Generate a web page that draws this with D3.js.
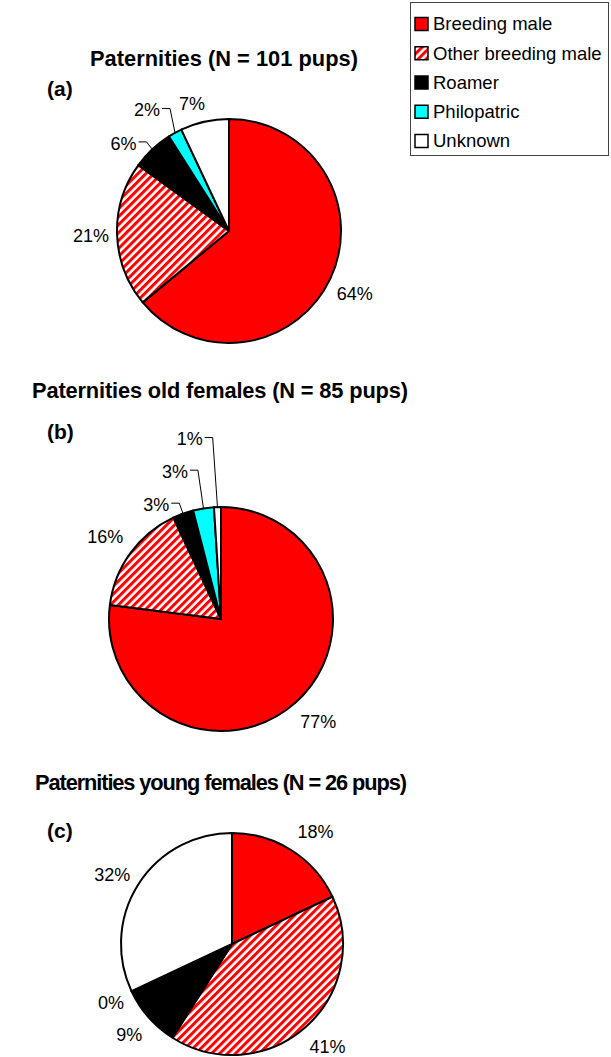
<!DOCTYPE html>
<html>
<head>
<meta charset="utf-8">
<script src="https://cdn.jsdelivr.net/npm/d3@7"></script>
<style>
    body { margin: 0; background: #fff; }
    text { font-family: "Liberation Sans", Arial, sans-serif; fill: #000; }
</style>
</head>
<body>
<div id="chart"></div>
<script>
// Data
const categories = ["Breeding male", "Other breeding male", "Roamer", "Philopatric", "Unknown"];
const valuesA = [64, 21, 6, 2, 7];
const valuesB = [77, 16, 3, 3, 1];
const valuesC = [18, 41, 9, 0, 32];
const titles = [
    "Paternities (N = 101 pups)",
    "Paternities old females (N = 85 pups)",
    "Paternities young females (N = 26 pups)"
];
const panelLetters = ["(a)", "(b)", "(c)"];

const colors = ["#ff0000", "url(#stripes)", "#000000", "#00ffff", "#ffffff"];

// Layout of the three panels
const panels = [
    { values: valuesA, cx: 229, cy: 231, r: 112, titleX: 224, titleY: 66, titleW: 268, letterY: 96,
      nudge: [[1, 4], [0, 0], [-11, 13], [-15.5, 0], [-7, 7]],
      leader: [false, false, true, true, false] },
    { values: valuesB, cx: 221, cy: 619, r: 112, titleX: 220, titleY: 398, titleW: 376, letterY: 439,
      nudge: [[6, -1], [-4, -1], [-18, 15.5], [-24.5, -11], [-27, -42]],
      leader: [false, false, true, true, true] },
    { values: valuesC, cx: 232, cy: 944, r: 111, titleX: 221, titleY: 790, titleW: 372, letterY: 838,
      nudge: [[10, 3], [5, 0], [0, 0], [3, 0], [-4, 4]],
      leader: [false, false, false, false, false] }
];

const width = 611;
const height = 1057;

const svg = d3.select("#chart")
    .append("svg")
    .attr("width", width)
    .attr("height", height);

svg.append("rect").attr("width", width).attr("height", height).attr("fill", "#fff");

// Diagonal red/white hatching
const pattern = svg.append("defs")
    .append("pattern")
    .attr("id", "stripes")
    .attr("patternUnits", "userSpaceOnUse")
    .attr("width", 5.6)
    .attr("height", 10)
    .attr("patternTransform", "rotate(45)");
pattern.append("rect").attr("width", 5.6).attr("height", 10).attr("fill", "#fff");
pattern.append("rect").attr("width", 3).attr("height", 10).attr("fill", "#ff0000");

const pie = d3.pie().sort(null).value(d => d);

panels.forEach((p, k) => {
    // Title and panel letter
    svg.append("text")
        .attr("x", p.titleX)
        .attr("y", p.titleY)
        .attr("text-anchor", "middle")
        .attr("textLength", p.titleW)
        .attr("lengthAdjust", "spacing")
        .style("font-size", "21.8px")
        .style("font-weight", "bold")
        .text(titles[k]);

    svg.append("text")
        .attr("x", 47)
        .attr("y", p.letterY)
        .style("font-size", "21px")
        .style("font-weight", "bold")
        .text(panelLetters[k]);

    const g = svg.append("g").attr("transform", `translate(${p.cx}, ${p.cy})`);
    const arcs = pie(p.values);
    const arc = d3.arc().innerRadius(0).outerRadius(p.r);
    const edgeArc = d3.arc().innerRadius(p.r).outerRadius(p.r);
    const labelArc = d3.arc().innerRadius(p.r + 26).outerRadius(p.r + 26);

    g.selectAll("path.slice")
        .data(arcs)
        .join("path")
        .attr("class", "slice")
        .attr("d", arc)
        .attr("fill", (d, i) => colors[i])
        .attr("stroke", "#000")
        .attr("stroke-width", 2)
        .attr("stroke-linejoin", "round");

    // Percentage labels
    arcs.forEach((d, i) => {
        const c = labelArc.centroid(d);
        const x = c[0] + p.nudge[i][0];
        const y = c[1] + p.nudge[i][1];
        const label = g.append("text")
            .attr("x", x)
            .attr("y", y)
            .attr("dy", "0.35em")
            .attr("text-anchor", "middle")
            .style("font-size", "18px")
            .text(d.data + "%");

        if (p.leader[i]) {
            const box = label.node().getBBox();
            const sx = box.x + box.width + 2;
            const sy = y - 1.5;
            const e = edgeArc.centroid(d);
            const corner = Math.min(sx + 8, e[0]);
            g.append("path")
                .attr("d", d3.line()([[sx, sy], [corner, sy], e]))
                .attr("fill", "none")
                .attr("stroke", "#000")
                .attr("stroke-width", 1);
        }
    });
});

// Legend
const legend = svg.append("g");
legend.append("rect")
    .attr("x", 410.5)
    .attr("y", 2.5)
    .attr("width", 198)
    .attr("height", 153)
    .attr("fill", "#fff")
    .attr("stroke", "#444")
    .attr("stroke-width", 1);

const rowY = d3.scalePoint().domain(categories).range([24, 141]);

categories.forEach((c, i) => {
    legend.append("rect")
        .attr("x", 415)
        .attr("y", rowY(c) - 6.5)
        .attr("width", 13)
        .attr("height", 13)
        .attr("fill", colors[i])
        .attr("stroke", "#000")
        .attr("stroke-width", 1.5);
    legend.append("text")
        .attr("x", 433)
        .attr("y", rowY(c))
        .attr("dy", "0.35em")
        .style("font-size", "18.5px")
        .text(c);
});
</script>
</body>
</html>
